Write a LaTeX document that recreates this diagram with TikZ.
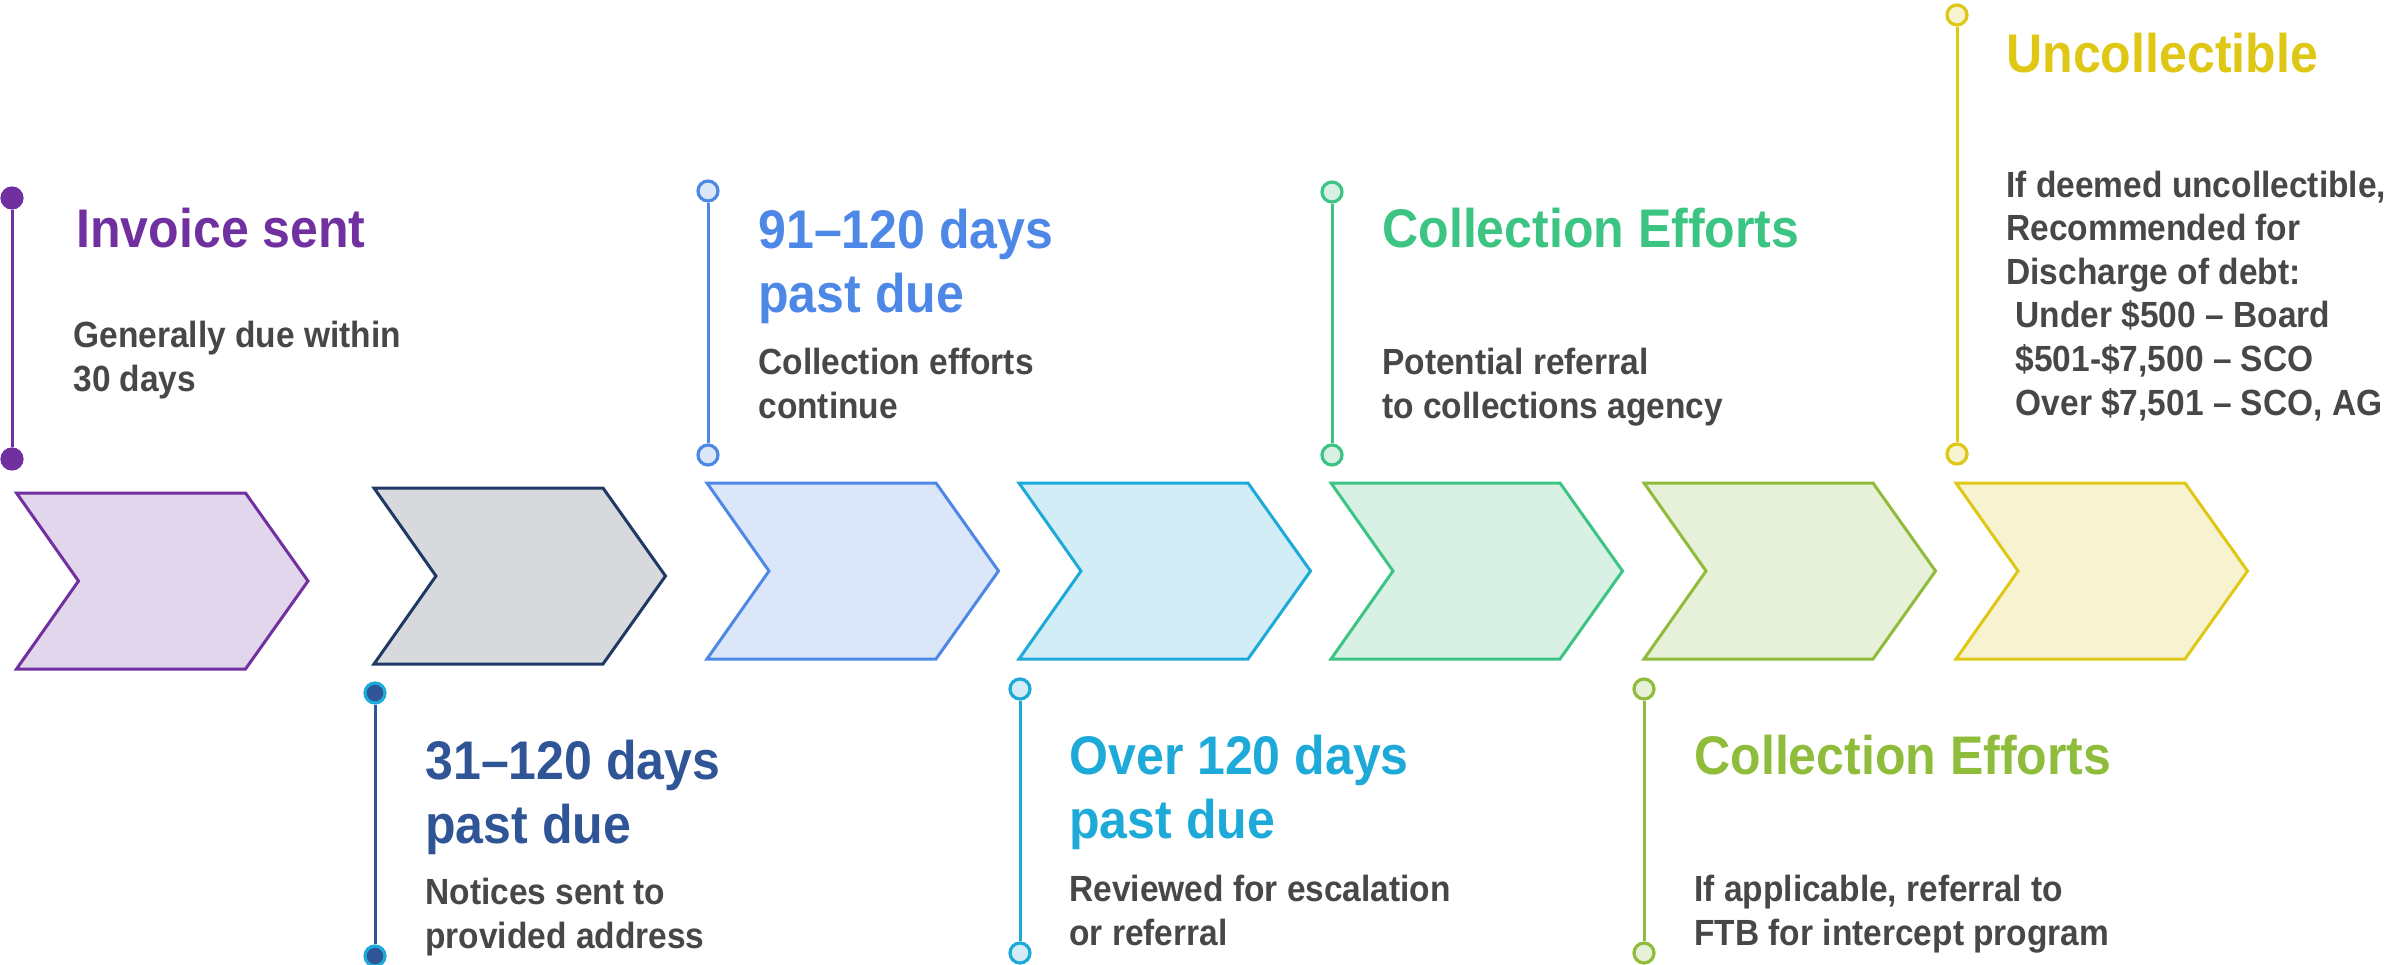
\documentclass[tikz,border=0pt]{standalone}
\usepackage{fontspec}
\setmainfont{Liberation Sans}[FakeStretch=0.92]

\definecolor{purp}{HTML}{7030A0}
\definecolor{purpfill}{HTML}{E2D6EC}
\definecolor{navy}{HTML}{1F3864}
\definecolor{navytext}{HTML}{2F5597}
\definecolor{grayfill}{HTML}{D7D9DD}
\definecolor{blu}{HTML}{4E88E6}
\definecolor{blufill}{HTML}{DBE6F8}
\definecolor{cya}{HTML}{1EAAD9}
\definecolor{cyafill}{HTML}{D2EDF6}
\definecolor{grn}{HTML}{3CC483}
\definecolor{grnfill}{HTML}{D8F1E4}
\definecolor{lim}{HTML}{8FBC3B}
\definecolor{limfill}{HTML}{E7F0D8}
\definecolor{yel}{HTML}{DFC815}
\definecolor{yelfill}{HTML}{F7F3D1}
\definecolor{bodygray}{HTML}{474747}

\tikzset{
  chevron/.style={line width=1.5pt, line join=miter},
  dot/.style={circle, inner sep=0pt, minimum size=10pt, line width=1.6pt},
  stem/.style={line width=1.5pt},
  title/.style={anchor=base west, inner sep=0pt, align=left,
    font=\fontsize{27.2}{32}\selectfont\bfseries},
  body/.style={anchor=base west, inner sep=0pt, align=left, text=bodygray,
    font=\fontsize{18.2}{21.8}\selectfont\bfseries}
}

\begin{document}
\begin{tikzpicture}[x=0.5pt,y=-0.5pt]
            \useasboundingbox (0,0) rectangle (2398,964);
            % the seven chevrons
            \pgfmathsetmacro{\h}{16.5};
            \draw [chevron, purp, fill = purpfill] (\h,493) -- (\h+229,493) -- (\h+291.5,581) -- (\h+229,669) -- (\h,669) -- (\h+62,581) -- cycle;
            \pgfmathsetmacro{\h}{374};
            \draw [chevron, navy, fill = grayfill] (\h,488) -- (\h+229,488) -- (\h+291.5,576) -- (\h+229,664) -- (\h,664) -- (\h+62,576) -- cycle;
            \pgfmathsetmacro{\h}{707};
            \draw [chevron, blu, fill = blufill] (\h,483) -- (\h+229,483) -- (\h+291.5,571) -- (\h+229,659) -- (\h,659) -- (\h+62,571) -- cycle;
            \pgfmathsetmacro{\h}{1019};
            \draw [chevron, cya, fill = cyafill] (\h,483) -- (\h+229,483) -- (\h+291.5,571) -- (\h+229,659) -- (\h,659) -- (\h+62,571) -- cycle;
            \pgfmathsetmacro{\h}{1331};
            \draw [chevron, grn, fill = grnfill] (\h,483) -- (\h+229,483) -- (\h+291.5,571) -- (\h+229,659) -- (\h,659) -- (\h+62,571) -- cycle;
            \pgfmathsetmacro{\h}{1644};
            \draw [chevron, lim, fill = limfill] (\h,483) -- (\h+229,483) -- (\h+291.5,571) -- (\h+229,659) -- (\h,659) -- (\h+62,571) -- cycle;
            \pgfmathsetmacro{\h}{1956};
            \draw [chevron, yel, fill = yelfill] (\h,483) -- (\h+229,483) -- (\h+291.5,571) -- (\h+229,659) -- (\h,659) -- (\h+62,571) -- cycle;
            % stems with their end dots
            \node [dot, draw = purp, fill = purp] (inv top) at (12,198) {};
            \node [dot, draw = purp, fill = purp] (inv bot) at (12,459) {};
            \draw [stem, purp] (inv top) -- (inv bot);
            \node [dot, draw = cya, fill = navytext] (d31 top) at (375,693) {};
            \node [dot, draw = cya, fill = navytext] (d31 bot) at (375,956) {};
            \draw [stem, navytext] (d31 top) -- (d31 bot);
            \node [dot, draw = blu, fill = blufill] (d91 top) at (708,191) {};
            \node [dot, draw = blu, fill = blufill] (d91 bot) at (708,455) {};
            \draw [stem, blu] (d91 top) -- (d91 bot);
            \node [dot, draw = cya, fill = cyafill] (over top) at (1020,689) {};
            \node [dot, draw = cya, fill = cyafill] (over bot) at (1020,953) {};
            \draw [stem, cya] (over top) -- (over bot);
            \node [dot, draw = grn, fill = grnfill] (coll top) at (1332,192) {};
            \node [dot, draw = grn, fill = grnfill] (coll bot) at (1332,455) {};
            \draw [stem, grn] (coll top) -- (coll bot);
            \node [dot, draw = lim, fill = limfill] (ftb top) at (1644,689) {};
            \node [dot, draw = lim, fill = limfill] (ftb bot) at (1644,953) {};
            \draw [stem, lim] (ftb top) -- (ftb bot);
            \node [dot, draw = yel, fill = yelfill] (unc top) at (1957,15) {};
            \node [dot, draw = yel, fill = yelfill] (unc bot) at (1957,454) {};
            \draw [stem, yel] (unc top) -- (unc bot);
            % titles and notes (placed by the baseline of their last line)
            \node [title, purp] (inv title) at (76,247) {Invoice sent};
            \node [body] (inv note) at (73,391) {Generally due within\\30 days};
            \node [title, navytext] (d31 title) at (425,843) {31–120 days\\past due};
            \node [body] (d31 note) at (425,948) {Notices sent to\\provided address};
            \node [title, blu] (d91 title) at (758,312) {91–120 days\\past due};
            \node [body] (d91 note) at (758,418) {Collection efforts\\continue};
            \node [title, cya] (over title) at (1069,838) {Over 120 days\\past due};
            \node [body] (over note) at (1069,945) {Reviewed for escalation\\or referral};
            \node [title, grn] (coll title) at (1382,247) {Collection Efforts};
            \node [body] (coll note) at (1382,418) {Potential referral\\to collections agency};
            \node [title, lim] (ftb title) at (1694,774) {Collection Efforts};
            \node [body] (ftb note) at (1694,945) {If applicable, referral to\\FTB for intercept program};
            \node [title, yel] (unc title) at (2006,72) {Uncollectible};
            \node [body] (unc note) at (2006,415) {If deemed uncollectible,\\Recommended for\\Discharge of debt:\\\ Under \$500 – Board\\\ \$501-\$7,500 – SCO\\\ Over \$7,501 – SCO, AG};
        \end{tikzpicture}
\end{document}
